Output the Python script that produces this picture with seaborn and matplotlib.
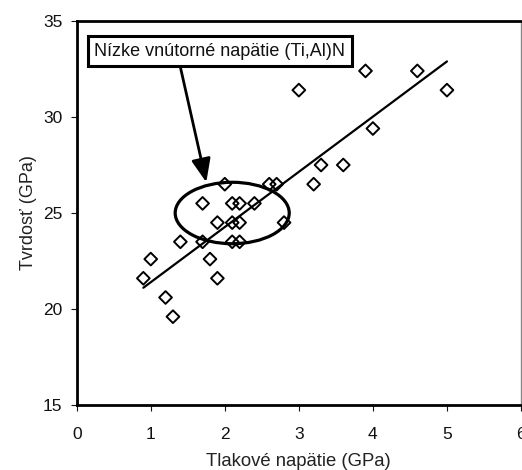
import numpy as np
import pandas as pd
import matplotlib
matplotlib.use("Agg")
import matplotlib.pyplot as plt
from matplotlib.patches import Ellipse
import seaborn as sns

# ---- data ----
stress = [0.9, 1.0, 1.2, 1.3, 1.4, 1.7, 1.7, 1.8, 1.9, 1.9,
          2.0, 2.1, 2.2, 2.4, 2.1, 2.2, 2.1, 2.2, 2.6, 2.7,
          2.8, 3.0, 3.2, 3.3, 3.6, 3.9, 4.0, 4.6, 5.0]
hardness = [21.6, 22.6, 20.6, 19.6, 23.5, 25.5, 23.5, 22.6, 24.5, 21.6,
            26.5, 25.5, 25.5, 25.5, 24.5, 24.5, 23.5, 23.5, 26.5, 26.5,
            24.5, 31.4, 26.5, 27.5, 27.5, 32.4, 29.4, 32.4, 31.4]
x_ticks = [0, 1, 2, 3, 4, 5, 6]
y_ticks = [15, 20, 25, 30, 35]
x_label = "Tlakové napätie (GPa)"
y_label = "Tvrdosť (GPa)"
annotation = "Nízke vnútorné napätie (Ti,Al)N"
ellipse_center = (2.1, 25.0)
ellipse_size = (1.54, 3.2)
arrow_tip = (1.75, 26.6)
label_pos = (1.93, 33.43)

df = pd.DataFrame({"x": stress, "y": hardness})

sns.set_theme(style="white")
plt.rcParams["font.family"] = ["Liberation Sans", "DejaVu Sans"]

fig = plt.figure(figsize=(5.22, 4.70), dpi=100)
ax = fig.add_axes([76.7 / 522, 65 / 470, (521 - 76.7) / 522, (405 - 21) / 470])

sns.regplot(data=df, x="x", y="y", ax=ax, scatter=False, ci=None,
            truncate=True, line_kws={"color": "black", "lw": 1.6})
sns.scatterplot(data=df, x="x", y="y", ax=ax, marker="D", s=42,
                facecolor="none", edgecolor="black", linewidth=1.4, zorder=3)

ax.add_patch(Ellipse(ellipse_center, ellipse_size[0], ellipse_size[1],
                     fill=False, edgecolor="black", lw=2.3, zorder=4))

ax.annotate(annotation, xy=arrow_tip, xytext=label_pos,
            ha="center", va="center", fontsize=13, color="#111111", zorder=5,
            bbox=dict(boxstyle="square,pad=0.36", fc="white", ec="black", lw=2.2),
            arrowprops=dict(arrowstyle="-|>,head_length=1.1,head_width=0.45",
                            color="black", lw=2.0, shrinkA=0, shrinkB=0,
                            relpos=(0.337, 0.0)))

ax.set_xlim(0, 6)
ax.set_ylim(15, 35)
ax.set_xticks(x_ticks)
ax.set_yticks(y_ticks)
ax.set_xlabel(x_label, fontsize=13.3, color="#222222", labelpad=8.5)
ax.set_ylabel(y_label, fontsize=13.0, color="#222222", labelpad=4.5)
ax.tick_params(axis="both", which="major", labelsize=12.5, colors="#111111",
               direction="out", length=4, width=0.8, bottom=True, left=True)
ax.tick_params(axis="x", pad=11.5)
ax.tick_params(axis="y", pad=6.3)
for side in ["left", "bottom", "top", "right"]:
    ax.spines[side].set_visible(True)
    ax.spines[side].set_color("black")
    ax.spines[side].set_linewidth(2.0)
ax.spines["right"].set_linewidth(1.0)
ax.spines["right"].set_color("#888888")

fig.savefig("out.png", dpi=100, facecolor="white")
